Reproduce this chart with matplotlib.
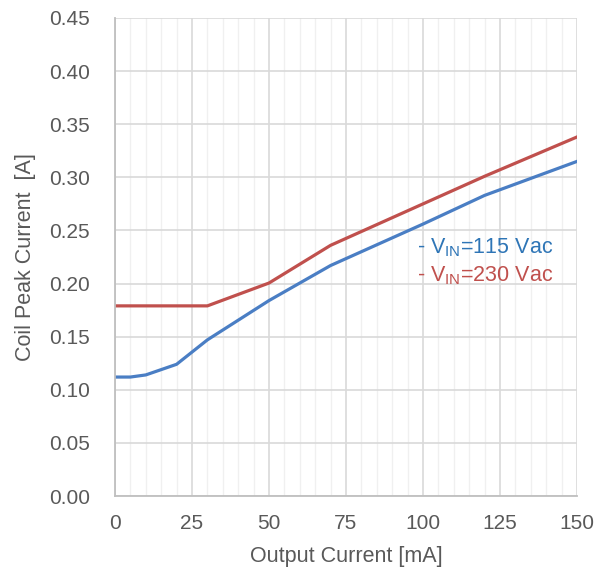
import matplotlib
matplotlib.use("Agg")
import matplotlib.pyplot as plt
from matplotlib.ticker import MultipleLocator

plt.rcParams['font.family'] = ['Liberation Sans', 'DejaVu Sans']
plt.rcParams['mathtext.fontset'] = 'custom'
plt.rcParams['mathtext.rm'] = 'Liberation Sans'
plt.rcParams['mathtext.it'] = 'Liberation Sans'

x_115 = [0, 5, 10, 20, 30, 50, 70, 100, 120, 150]
y_115 = [0.112, 0.112, 0.114, 0.124, 0.147, 0.184, 0.217, 0.256, 0.283, 0.315]
x_230 = [0, 5, 10, 20, 30, 50, 70, 100, 120, 150]
y_230 = [0.179, 0.179, 0.179, 0.179, 0.179, 0.2005, 0.236, 0.275, 0.301, 0.338]
x_ticks = [0, 25, 50, 75, 100, 125, 150]
y_ticks = [0.00, 0.05, 0.10, 0.15, 0.20, 0.25, 0.30, 0.35, 0.40, 0.45]

fig = plt.figure(figsize=(6.02, 5.71), dpi=100)
ax = fig.add_axes([0.191, 0.1313, 0.7675, 0.8372])

ax.plot(x_115, y_115, color='#4A7EC4', lw=2.3, solid_joinstyle='round')
ax.plot(x_230, y_230, color='#C0504D', lw=2.3, solid_joinstyle='round')

ax.set_xlim(0, 150)
ax.set_ylim(0, 0.45)
ax.set_xticks(x_ticks)
ax.set_yticks(y_ticks)
ax.set_yticklabels([f"{v:.2f}" for v in y_ticks])
ax.xaxis.set_minor_locator(MultipleLocator(5))
ax.grid(which='major', color='#D9D9D9', lw=1.2)
ax.grid(which='minor', axis='x', color='#F0F0F0', lw=1.0)
ax.set_axisbelow(True)
for s in ['top', 'right']:
    ax.spines[s].set_visible(False)
for s in ['left', 'bottom']:
    ax.spines[s].set_color('#BFBFBF')
    ax.spines[s].set_linewidth(1.3)
ax.tick_params(which='both', length=0, labelsize=15, colors='#595959')
ax.tick_params(axis='y', pad=18)
ax.tick_params(axis='x', pad=13)
ax.set_xlabel('Output Current [mA]', fontsize=15.5, color='#595959', labelpad=9)
ax.set_ylabel('Coil Peak Current  [A]', fontsize=15.5, color='#595959', labelpad=9)

ax.text(0.653, 0.508, r'- V$_{\mathrm{IN}}$=115 Vac', transform=ax.transAxes,
        fontsize=15.5, color='#2E75B6', va='baseline', ha='left')
ax.text(0.653, 0.450, r'- V$_{\mathrm{IN}}$=230 Vac', transform=ax.transAxes,
        fontsize=15.5, color='#C0504D', va='baseline', ha='left')

fig.savefig('out.png', dpi=100)
